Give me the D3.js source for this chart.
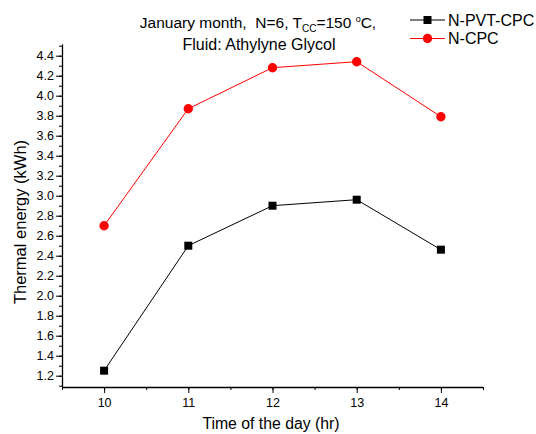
<!DOCTYPE html>
<html>
<head>
<meta charset="utf-8">
<script src="https://cdn.jsdelivr.net/npm/d3@7"></script>
<style>
  body { margin: 0; background: #fff; }
  text { font-family: "Liberation Sans", Arial, sans-serif; }
</style>
</head>
<body>
<div class="canva"></div>
<script>
// values
const hours = [10, 11, 12, 13, 14];
const pvtCpc = [1.25, 2.50, 2.90, 2.96, 2.46];
const nCpc = [2.70, 3.87, 4.28, 4.34, 3.79];
const yTicks = [1.2, 1.4, 1.6, 1.8, 2.0, 2.2, 2.4, 2.6, 2.8, 3.0, 3.2, 3.4, 3.6, 3.8, 4.0, 4.2, 4.4];
const xTicks = [10, 11, 12, 13, 14];

const W = 536, H = 434;
const svg = d3.select(".canva").append("svg")
    .attr("width", W)
    .attr("height", H);

const x = d3.scaleLinear().domain([9.5, 14.5]).range([62, 483]);
const y = d3.scaleLinear().domain([1.087, 4.517]).range([387, 44]);

// minor ticks
const yMinor = d3.range(1.1, 4.55, 0.1).map(v => +v.toFixed(1));
const xMinor = d3.range(9.5, 14.51, 0.5);

svg.append("g")
    .attr("transform", "translate(62,0)")
    .call(d3.axisLeft(y).tickValues(yMinor).tickSize(3).tickFormat(""))
    .call(g => g.select(".domain").remove());
svg.append("g")
    .attr("transform", "translate(0,387)")
    .call(d3.axisBottom(x).tickValues(xMinor).tickSize(3).tickFormat(""))
    .call(g => g.select(".domain").remove());

const yAxis = svg.append("g")
    .attr("transform", "translate(62,0)")
    .call(d3.axisLeft(y).tickValues(yTicks).tickSize(6).tickPadding(2).tickSizeOuter(0).tickFormat(d3.format(".1f")));
yAxis.selectAll("text").attr("font-size", 12.5).attr("fill", "#000");

const xAxis = svg.append("g")
    .attr("transform", "translate(0,387)")
    .call(d3.axisBottom(x).tickValues(xTicks).tickSize(6).tickPadding(5).tickSizeOuter(0).tickFormat(d3.format("d")));
xAxis.selectAll("text").attr("font-size", 12.5).attr("fill", "#000");

svg.selectAll(".domain").attr("stroke-width", 1.3);

// lines
const line = d3.line().x((d, i) => x(hours[i])).y(d => y(d));

svg.append("path").datum(pvtCpc)
    .attr("d", line).attr("fill", "none").attr("stroke", "#000").attr("stroke-width", 1);
svg.append("path").datum(nCpc)
    .attr("d", line).attr("fill", "none").attr("stroke", "#ff0000").attr("stroke-width", 1);

svg.selectAll(".sq").data(pvtCpc).enter().append("rect")
    .attr("x", (d, i) => x(hours[i]) - 4)
    .attr("y", d => y(d) - 4)
    .attr("width", 8).attr("height", 8)
    .attr("fill", "#000");

svg.selectAll(".dot").data(nCpc).enter().append("circle")
    .attr("cx", (d, i) => x(hours[i]))
    .attr("cy", d => y(d))
    .attr("r", 4.7)
    .attr("fill", "#ff0000");

// axis titles
svg.append("text")
    .attr("transform", "translate(26,222) rotate(-90)")
    .attr("text-anchor", "middle")
    .attr("font-size", 16.5)
    .text("Thermal energy (kWh)");

svg.append("text")
    .attr("x", 271).attr("y", 429)
    .attr("text-anchor", "middle")
    .attr("font-size", 15.8)
    .text("Time of the day (hr)");

// chart title
const t1 = svg.append("text")
    .attr("x", 258).attr("y", 28)
    .attr("text-anchor", "middle")
    .attr("font-size", 15.5);
t1.append("tspan").text("January month,\u00a0 N=6, T");
t1.append("tspan").attr("font-size", 10).attr("dy", 4).text("CC");
t1.append("tspan").attr("dy", -4).text("=150 ");
t1.append("tspan").attr("font-size", 9).attr("dy", -6).text("o");
t1.append("tspan").attr("dy", 6).text("C,");

svg.append("text")
    .attr("x", 259).attr("y", 50)
    .attr("text-anchor", "middle")
    .attr("font-size", 16)
    .text("Fluid: Athylyne Glycol");

// legend
const legend = [
  { name: "N-PVT-CPC", color: "#000", shape: "square" },
  { name: "N-CPC", color: "#ff0000", shape: "circle" }
];
const lg = svg.append("g").attr("transform", "translate(410,20)");
legend.forEach((s, i) => {
  const g = lg.append("g").attr("transform", `translate(0,${i * 18.5})`);
  g.append("line").attr("x1", 0).attr("x2", 35).attr("y1", 0).attr("y2", 0)
    .attr("stroke", s.color).attr("stroke-width", 1);
  if (s.shape === "square") {
    g.append("rect").attr("x", 13.5).attr("y", -4).attr("width", 8).attr("height", 8).attr("fill", s.color);
  } else {
    g.append("circle").attr("cx", 17.5).attr("cy", 0).attr("r", 4.7).attr("fill", s.color);
  }
  g.append("text").attr("x", 38).attr("y", 5.5).attr("font-size", 16).text(s.name);
});
</script>
</body>
</html>
